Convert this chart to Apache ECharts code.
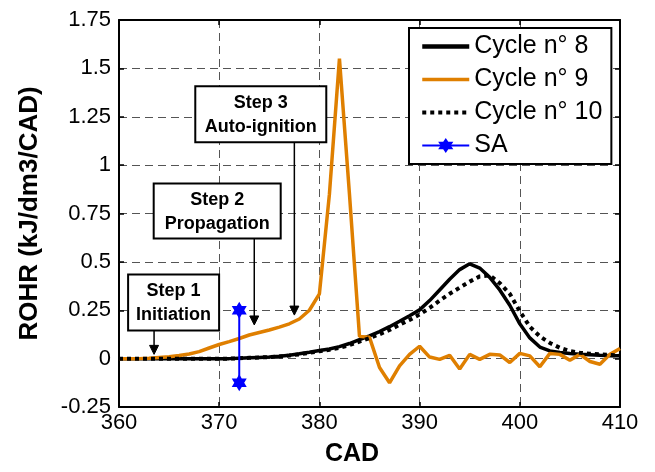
<!DOCTYPE html>
<html>
<head>
<meta charset="utf-8">
<script src="https://cdn.jsdelivr.net/npm/echarts@6/dist/echarts.min.js"></script>
<style>
html,body{margin:0;padding:0;background:#fff;}
#chart{width:655px;height:472px;}
</style>
</head>
<body>
<div id="chart"></div>
<script>
// ---- Data ----
const cad = [360,361,362,363,364,365,366,367,368,369,370,371,372,373,374,375,376,377,378,379,380,381,382,383,384,385,386,387,388,389,390,391,392,393,394,395,396,397,398,399,400,401,402,403,404,405,406,407,408,409,410];
const cycle8 = [0,0,0,0,0,0,0,0,0,0,0,0,0.002,0.004,0.006,0.008,0.012,0.018,0.025,0.033,0.042,0.05,0.062,0.078,0.098,0.118,0.14,0.165,0.193,0.222,0.252,0.3,0.355,0.41,0.46,0.49,0.468,0.42,0.355,0.276,0.18,0.107,0.06,0.04,0.032,0.027,0.023,0.02,0.017,0.015,0.015];
const cycle9 = [0,0,0,0.002,0.006,0.01,0.016,0.024,0.036,0.055,0.073,0.088,0.104,0.122,0.135,0.148,0.163,0.18,0.205,0.25,0.335,0.85,1.55,0.85,0.115,0.11,-0.046,-0.125,-0.037,0.022,0.064,0.008,-0.004,0.017,-0.054,0.022,-0.004,0.022,0.019,-0.02,0.027,0.014,-0.042,0.027,0.022,-0.008,0.022,-0.015,-0.029,0.022,0.052];
const cycle10 = [0,0,0,0,0,0,0,0,0,0,0,0,0.002,0.004,0.006,0.008,0.011,0.016,0.022,0.03,0.038,0.046,0.056,0.07,0.088,0.106,0.126,0.148,0.175,0.2,0.228,0.262,0.3,0.335,0.367,0.398,0.425,0.43,0.39,0.335,0.245,0.165,0.115,0.081,0.056,0.04,0.03,0.025,0.022,0.019,0.017];
const saCad = [372, 372];
const saRohr = [-0.125, 0.25];
const seriesNames = ['Cycle n° 8', 'Cycle n° 9', 'Cycle n° 10', 'SA'];
const xTicks = {min: 360, max: 410, step: 10};
const yTicks = {min: -0.25, max: 1.75, step: 0.25};
const stepLabels = ['Step 1\nInitiation', 'Step 2\nPropagation', 'Step 3\nAuto-ignition'];
const stepTargets = [[363.5, 0.022], [373.5, 0.174], [377.5, 0.225]];

// ---- Layout of annotation boxes (data-space centers, pixel sizes) ----
const boxLayout = [
  {center: [365.45, 0.29], w: 91, h: 56},
  {center: [369.8, 0.763], w: 127, h: 55},
  {center: [374.15, 1.263], w: 131, h: 56}
];

const pairs = (xs, ys) => xs.map((x, i) => [x, ys[i]]);
const FONT = '"Liberation Sans", Arial, sans-serif';
const star = 'path://M0,-10L8.66,5L-8.66,5Z M0,10L-8.66,-5L8.66,-5Z';
const ORANGE = '#DF7F00';

const chart = echarts.init(document.getElementById('chart'), null, {renderer: 'canvas'});

const gridLine = {show: true, lineStyle: {color: '#555', type: [8, 5], width: 1}};
const tickStyle = {show: true, inside: true, length: 5, lineStyle: {color: '#000', width: 1.5}};
const axisLine = {show: true, onZero: false, lineStyle: {color: '#000', width: 2}};
const noSymbol = {opacity: 0, color: 'transparent', borderWidth: 0};

chart.setOption({
  animation: false,
  textStyle: {fontFamily: FONT},
  grid: {left: 119, right: 35, top: 20, bottom: 59, containLabel: false},
  legend: {
    orient: 'vertical',
    left: 409, top: 28,
    data: [
      {name: seriesNames[0], itemStyle: noSymbol, lineStyle: {width: 4.5, color: '#000'}},
      {name: seriesNames[1], itemStyle: noSymbol, lineStyle: {width: 3.5, color: ORANGE}},
      {name: seriesNames[2], itemStyle: noSymbol, lineStyle: {width: 4, color: '#000', type: 'dotted'}},
      {name: seriesNames[3], lineStyle: {width: 2, color: '#0000FF'}}
    ],
    itemWidth: 47, itemHeight: 19, itemGap: 8,
    padding: [6, 9, 6, 11],
    borderColor: '#000', borderWidth: 2, backgroundColor: '#fff',
    textStyle: {fontSize: 25, color: '#000', fontFamily: FONT}
  },
  xAxis: [{
    type: 'value', min: xTicks.min, max: xTicks.max, interval: xTicks.step,
    name: 'CAD', nameLocation: 'middle', nameGap: 35,
    nameTextStyle: {fontSize: 25, fontWeight: 'bold', color: '#000', fontFamily: FONT, padding: [0, 35, 0, 0]},
    axisLine: axisLine, axisTick: tickStyle, splitLine: gridLine,
    axisLabel: {fontSize: 22, color: '#000', margin: 5, fontFamily: FONT}
  }, {
    type: 'value', position: 'top', min: xTicks.min, max: xTicks.max, interval: xTicks.step,
    axisLine: axisLine, axisTick: tickStyle, splitLine: {show: false}, axisLabel: {show: false}
  }],
  yAxis: [{
    type: 'value', min: yTicks.min, max: yTicks.max, interval: yTicks.step,
    name: 'ROHR (kJ/dm3/CAD)', nameLocation: 'middle', nameGap: 76,
    nameTextStyle: {fontSize: 26, fontWeight: 'bold', color: '#000', fontFamily: FONT},
    axisLine: axisLine, axisTick: tickStyle, splitLine: gridLine,
    axisLabel: {fontSize: 22, color: '#000', margin: 8, fontFamily: FONT}
  }, {
    type: 'value', position: 'right', min: yTicks.min, max: yTicks.max, interval: yTicks.step,
    axisLine: axisLine, axisTick: tickStyle, splitLine: {show: false}, axisLabel: {show: false}
  }],
  series: [
    {name: seriesNames[0], type: 'line', data: pairs(cad, cycle8), symbol: 'none',
     lineStyle: {color: '#000', width: 3.5}, itemStyle: {color: '#000'}, z: 2},
    {name: seriesNames[1], type: 'line', data: pairs(cad, cycle9), symbol: 'none',
     lineStyle: {color: ORANGE, width: 3.5}, itemStyle: {color: ORANGE}, z: 3},
    {name: seriesNames[2], type: 'line', data: pairs(cad, cycle10), symbol: 'none',
     lineStyle: {color: '#000', width: 4, type: 'dotted'}, itemStyle: {color: '#000'}, z: 4},
    {name: seriesNames[3], type: 'line', data: pairs(saCad, saRohr), symbol: star, symbolSize: [15, 17],
     showSymbol: true, lineStyle: {color: '#0000FF', width: 2}, itemStyle: {color: '#0000FF'}, z: 5}
  ]
});

// ---- Annotation boxes with arrows, anchored in data space ----
const toPx = (p) => chart.convertToPixel({xAxisIndex: 0, yAxisIndex: 0}, p);
const graphics = [];
stepLabels.forEach((label, i) => {
  const b = boxLayout[i];
  const c = toPx(b.center);
  const tip = toPx(stepTargets[i]);
  const x0 = c[0] - b.w / 2, y0 = c[1] - b.h / 2;
  const bottom = y0 + b.h;
  graphics.push({
    type: 'line', z: 100,
    shape: {x1: tip[0], y1: bottom, x2: tip[0], y2: tip[1] - 6},
    style: {stroke: '#000', lineWidth: 1.5}
  });
  graphics.push({
    type: 'polygon', z: 100,
    shape: {points: [[tip[0] - 4.5, tip[1] - 9], [tip[0] + 4.5, tip[1] - 9], [tip[0], tip[1]]]},
    style: {fill: '#000', stroke: '#000', lineWidth: 1}
  });
  graphics.push({
    type: 'rect', z: 100,
    shape: {x: x0, y: y0, width: b.w, height: b.h},
    style: {fill: '#fff', stroke: '#000', lineWidth: 2}
  });
  graphics.push({
    type: 'text', z: 101,
    x: c[0], y: c[1] + 1,
    style: {text: label, font: 'bold 18px ' + FONT, fill: '#000', align: 'center', verticalAlign: 'middle', lineHeight: 24}
  });
});
chart.setOption({graphic: graphics});
</script>
</body>
</html>
